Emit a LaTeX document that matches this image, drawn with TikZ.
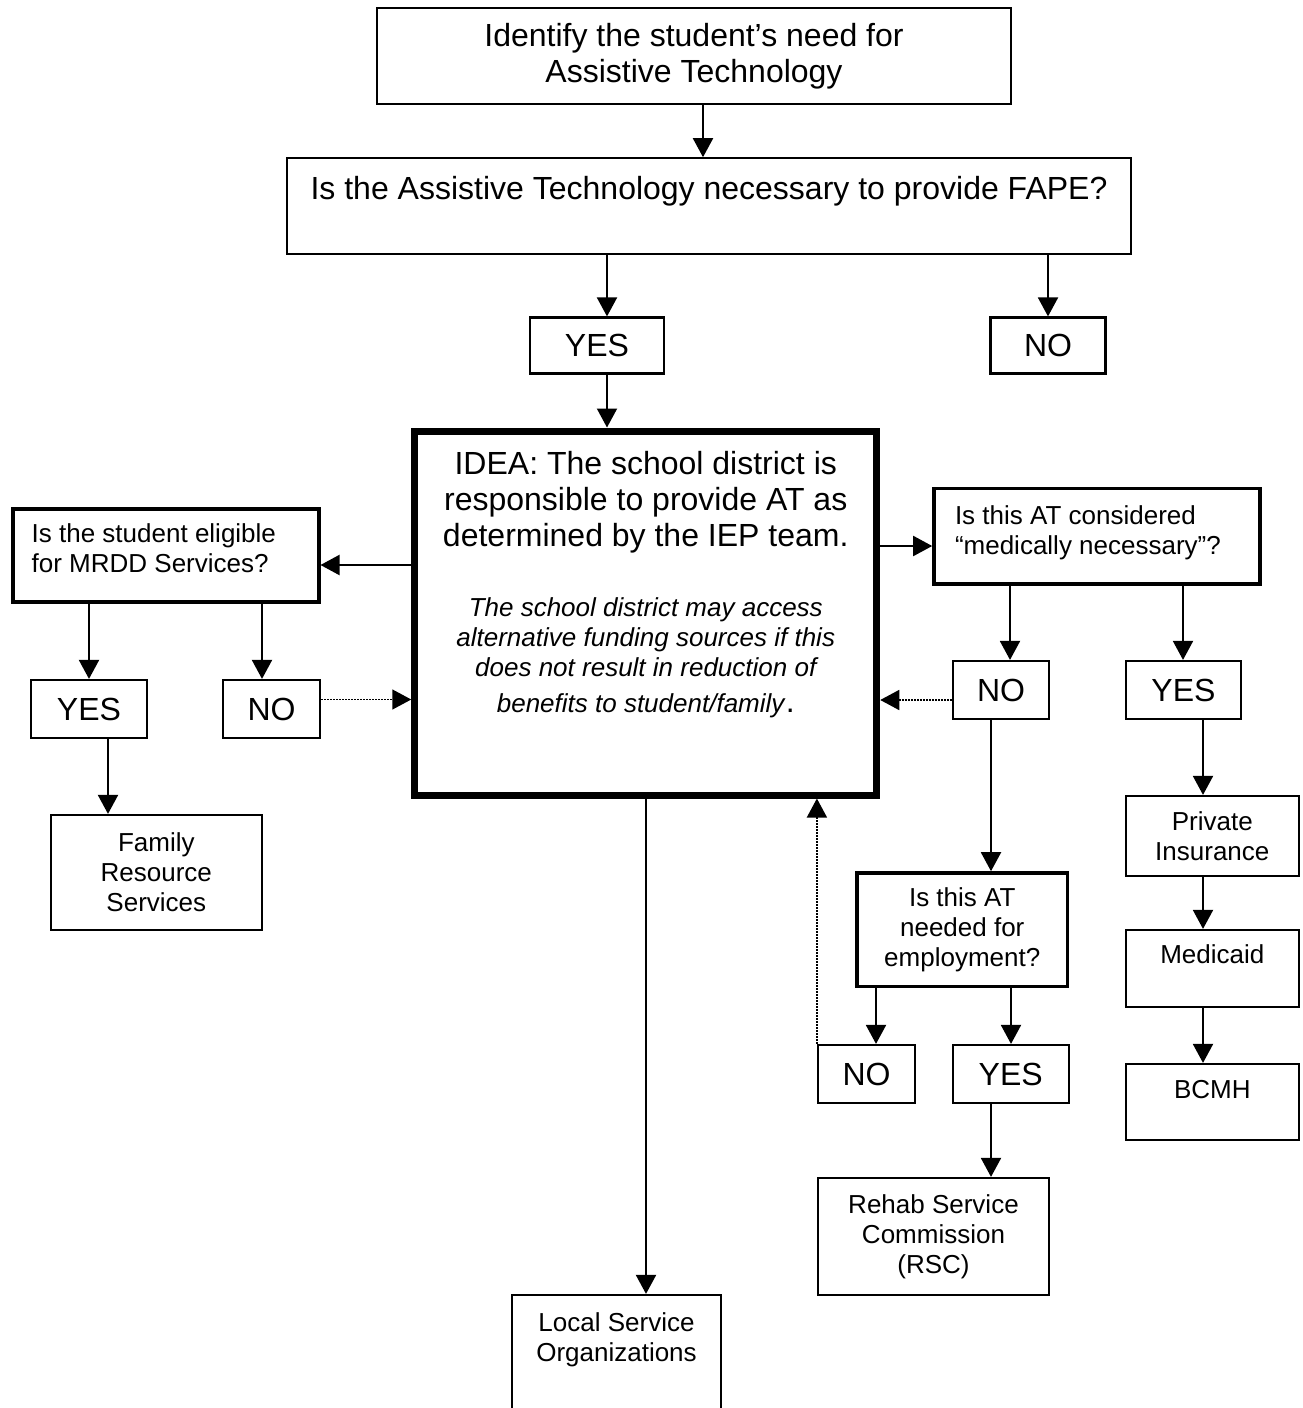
\documentclass[tikz,border=0pt]{standalone}
\usepackage{fontspec}
\setmainfont{Liberation Sans}
\usetikzlibrary{arrows.meta}
\newcommand{\bigtxt}{\fontsize{16}{18}\selectfont}
\newcommand{\smalltxt}{\fontsize{13}{15}\selectfont}
\begin{document}
\begin{tikzpicture}[x=0.5pt,y=-0.5pt,
  box/.style={draw,line width=1.1pt,inner sep=3pt,align=center,font=\smalltxt},
  qbox/.style={box,line width=1.8pt},
  ans/.style={box,font=\bigtxt,minimum height=29pt},
  arr/.style={-{Triangle[length=9.5pt,width=10pt]},line width=1pt},
  dotarr/.style={arr,line width=0.75pt,dash pattern=on 0.75pt off 0.75pt}]
  \useasboundingbox (0,0) rectangle (1302,1408);
  % top of the chart
  \node[box,font=\bigtxt,minimum width=317pt,minimum height=48pt] (need) at (694,56)
    {Identify the student’s need for\\Assistive Technology};
  \node[box,font=\bigtxt,minimum width=422pt,minimum height=48pt,
    text height=11.5pt,text depth=18.8pt] (fape) at (709,206.3)
    {Is the Assistive Technology necessary to provide FAPE?};
  \node[ans,minimum width=67pt,minimum height=28pt] (fyes) at (597,345.5) {YES};
  \node[ans,minimum width=57.5pt,minimum height=28pt] (fno) at (1048,345.5) {NO};
  % IDEA box
  \node[draw,line width=3.5pt,minimum width=231pt,minimum height=182pt,inner sep=0pt,
    text width=228pt,align=flush center,text height=11.5pt,text depth=150.5pt] (idea) at (645.75,613)
    {{\bigtxt IDEA: The school district is\\responsible to provide AT as\\determined by the IEP team.\par}
     \vspace{20pt}
     {\smalltxt\itshape The school district may access\\alternative funding sources if this\\
      does not result in reduction of\\[3pt]benefits to student/family\/{\upshape\bigtxt.}\par}};
  % MRDD branch
  \node[qbox,align=flush left,text width=134pt,inner xsep=9.5pt,minimum height=46.5pt,
    text height=9.5pt,text depth=22.3pt] (mrdd) at (165.7,555.5)
    {Is the student eligible\\for MRDD Services?};
  \node[ans,minimum width=58pt] (lyes) at (89,709) {YES};
  \node[ans,minimum width=48.5pt] (lno) at (271.5,709) {NO};
  \node[box,minimum width=105.5pt,minimum height=57.5pt] (frs) at (156.3,872.5)
    {Family\\Resource\\Services};
  % medical branch
  \node[qbox,align=flush left,text width=142pt,inner xsep=10.5pt,minimum height=47.7pt,
    text height=9.5pt,text depth=21.5pt] (med) at (1097,536)
    {Is this AT considered\\“medically necessary”?};
  \node[ans,minimum width=48pt] (mno) at (1001,690) {NO};
  \node[ans,minimum width=57.5pt] (myes) at (1183.5,690) {YES};
  \node[box,minimum width=86.5pt,minimum height=40pt] (priv) at (1212.3,836)
    {Private\\Insurance};
  \node[box,minimum width=86.5pt,minimum height=38.5pt,
    text height=9.5pt,text depth=15pt] (mcaid) at (1212.3,968.5) {Medicaid};
  \node[box,minimum width=86.5pt,minimum height=38pt,
    text height=9.5pt,text depth=13.5pt] (bcmh) at (1212.3,1102) {BCMH};
  % employment branch
  \node[qbox,minimum width=105.25pt,minimum height=56.75pt] (emp) at (962.25,929.75)
    {Is this AT\\needed for\\employment?};
  \node[ans,minimum width=48.5pt] (eno) at (866.5,1074) {NO};
  \node[ans,minimum width=58pt] (eyes) at (1010.7,1074) {YES};
  \node[box,minimum width=115.5pt,minimum height=58.5pt] (rsc) at (933.5,1236.5)
    {Rehab Service\\Commission\\(RSC)};
  \node[box,minimum width=104.5pt,minimum height=62.5pt,text width=98pt,align=flush center,
    text height=9.5pt,text depth=36pt] (lso) at (616.5,1357.5)
    {Local Service\\Organizations};
  % connectors
  \draw[arr] (need.south -| 703,0) -- (fape.north -| 703,0);
  \draw[arr] (fape.south -| 607,0) -- (fyes.north -| 607,0);
  \draw[arr] (fape.south -| 1048,0) -- (fno.north -| 1048,0);
  \draw[arr] (fyes.south -| 607,0) -- (idea.north -| 607,0);
  \draw[arr] (idea.west |- 0,565) -- (mrdd.east |- 0,565);
  \draw[arr] (idea.east |- 0,546) -- (med.west |- 0,546);
  \draw[arr] (mrdd.south -| 89,0) -- (lyes.north -| 89,0);
  \draw[arr] (mrdd.south -| 262,0) -- (lno.north -| 262,0);
  \draw[arr] (lyes.south -| 108,0) -- (frs.north -| 108,0);
  \draw[dotarr] (lno.east |- 0,699.5) -- (idea.west |- 0,699.5);
  \draw[arr] (med.south -| 1010,0) -- (mno.north -| 1010,0);
  \draw[arr] (med.south -| 1183,0) -- (myes.north -| 1183,0);
  \draw[dotarr] (mno.west |- 0,700) -- (idea.east |- 0,700);
  \draw[arr] (mno.south -| 991,0) -- (emp.north -| 991,0);
  \draw[arr] (myes.south -| 1203,0) -- (priv.north -| 1203,0);
  \draw[arr] (priv.south -| 1203,0) -- (mcaid.north -| 1203,0);
  \draw[arr] (mcaid.south -| 1203,0) -- (bcmh.north -| 1203,0);
  \draw[arr] (emp.south -| 876,0) -- (eno.north -| 876,0);
  \draw[arr] (emp.south -| 1011,0) -- (eyes.north -| 1011,0);
  \draw[dotarr] (eno.north west) -- (idea.south -| eno.north west);
  \draw[arr] (eyes.south -| 991,0) -- (rsc.north -| 991,0);
  \draw[arr] (idea.south -| 646,0) -- (lso.north -| 646,0);
\end{tikzpicture}
\end{document}
